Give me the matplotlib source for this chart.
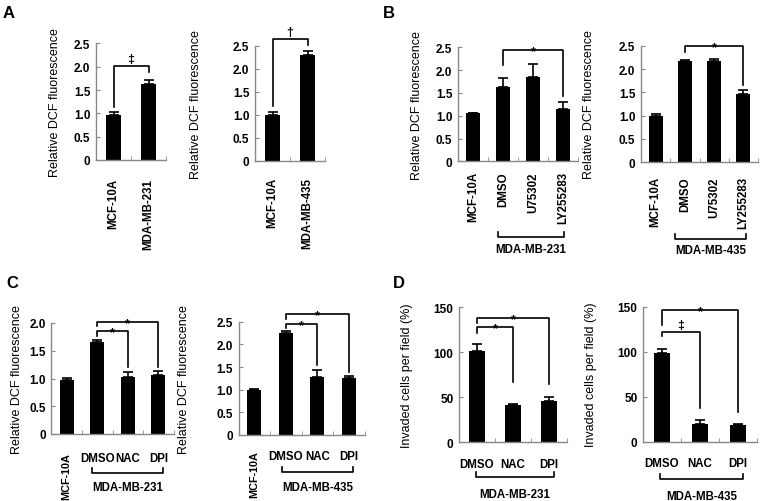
import matplotlib
matplotlib.use('Agg')
import matplotlib.pyplot as plt
from matplotlib.transforms import blended_transform_factory

plt.rcParams['font.family'] = ['Liberation Sans', 'DejaVu Sans']

W, H = 764, 502

# ---- data ----
a1_labels = ['MCF-10A', 'MDA-MB-231']
a1_vals = [0.96, 1.62]
a1_err = [0.06, 0.10]
a1_sig = [(0, 1, 2.01, 1.13, 1.88, '‡')]

a2_labels = ['MCF-10A', 'MDA-MB-435']
a2_vals = [0.99, 2.30]
a2_err = [0.06, 0.08]
a2_sig = [(0, 1, 2.65, 1.20, 2.52, '†')]

b_labels = ['MCF-10A', 'DMSO', 'U75302', 'LY255283']
b1_vals = [1.05, 1.64, 1.84, 1.15]
b1_err = [0.02, 0.18, 0.29, 0.15]
b1_sig = [(1, 3, 2.43, 2.11, 1.44, '*')]

b2_vals = [1.00, 2.17, 2.17, 1.47]
b2_err = [0.04, 0.02, 0.05, 0.07]
b2_sig = [(1, 3, 2.50, 2.36, 1.66, '*')]

c_labels = ['MCF-10A', 'DMSO', 'NAC', 'DPI']
c1_vals = [0.97, 1.65, 1.02, 1.07]
c1_err = [0.04, 0.05, 0.10, 0.06]
c1_sig = [(1, 2, 1.85, 1.77, 1.20, '*'), (1, 3, 2.02, 1.95, 1.20, '*')]

c2_vals = [1.00, 2.26, 1.28, 1.26]
c2_err = [0.01, 0.04, 0.15, 0.04]
c2_sig = [(1, 2, 2.46, 2.35, 1.55, '*'), (1, 3, 2.67, 2.57, 1.39, '*')]

d_labels = ['DMSO', 'NAC', 'DPI']
d1_vals = [101, 41, 46]
d1_err = [8, 2, 4]
d1_sig = [(0, 1, 128, 122, 67, '*'), (0, 2, 138, 133, 65, '*')]

d2_vals = [99, 20, 19]
d2_err = [4, 4, 1]
d2_sig = [(0, 1, 121.5, 117, 38, '‡'), (0, 2, 146, 130, 33, '*')]

dcf_ticks = [0, 0.5, 1.0, 1.5, 2.0, 2.5]
dcf_ticks_c1 = [0, 0.5, 1.0, 1.5, 2.0]
inv_ticks = [0, 50, 100, 150]

DCF = 'Relative DCF fluorescence'
INV = 'Invaded cells per field (%)'

fig = plt.figure(figsize=(W / 100, H / 100), dpi=100)


def fy(ypix):
    return 1 - ypix / H


def panel(box, labels, vals, err, sig, ticks, ylabel, ylab_x, width,
          rot=90, pad=8, group=None, first_rot=False):
    """box = (left, top, right, bottom) in pixels"""
    l, t, r, b = box
    ax = fig.add_axes([l / W, fy(b), (r - l) / W, (b - t) / H])
    n = len(vals)
    x = list(range(n))
    ax.bar(x, vals, width=width, color='black', zorder=2)
    ax.errorbar(x, vals, yerr=[[0] * n, err], fmt='none', ecolor='black',
                elinewidth=1.2, capsize=3.5, capthick=1.2, zorder=3)
    ax.set_xlim(-0.5, n - 0.5)
    ax.set_ylim(0, ticks[-1])
    for s in ['top', 'right']:
        ax.spines[s].set_visible(False)
    for s in ['left', 'bottom']:
        ax.spines[s].set_color('#888888')
        ax.spines[s].set_linewidth(1)
    ax.set_yticks(ticks)
    ax.set_yticklabels(['0' if v == 0 else (('%.1f' % v) if ticks[-1] < 10 else '%d' % v)
                        for v in ticks], fontsize=8.5, fontweight='bold')
    ax.tick_params(axis='y', direction='in', length=3, color='#888888', pad=4)
    ax.set_xticks(x)
    ax.set_xticks([i + 0.5 for i in range(n)], minor=True)
    ax.tick_params(axis='x', which='major', length=0, pad=pad)
    ax.tick_params(axis='x', which='minor', direction='in', length=3, color='#888888')
    ax.set_xticklabels(labels, rotation=rot, fontsize=8.3, fontweight='bold')
    if first_rot:
        ax.get_xticklabels()[0].set_rotation(90)
        ax.get_xticklabels()[0].set_fontsize(7.8)
    ax.set_ylabel(ylabel, fontsize=9)
    ax.yaxis.set_label_coords((ylab_x - l) / (r - l), 0.5)

    for i, j, top, yi, yj, sym in sig:
        ax.plot([i, i, j, j], [yi, top, top, yj], color='black', lw=1.2,
                clip_on=False, zorder=4)
        dy = -3 if sym == '*' else 3
        ax.annotate(sym, ((i + j) / 2, top), xytext=(0, dy), textcoords='offset points',
                    ha='center', va='baseline', fontsize=9, fontweight='bold',
                    annotation_clip=False)

    if group is not None:
        x0, x1, yb, ytxt, name = group
        tr = blended_transform_factory(ax.transData, fig.transFigure)
        ax.plot([x0, x0, x1, x1], [fy(yb - 5), fy(yb), fy(yb), fy(yb - 5)],
                color='black', lw=1.2, transform=tr, clip_on=False)
        ax.text((x0 + x1) / 2, fy(ytxt), name, transform=tr, ha='center', va='center',
                fontsize=8.3, fontweight='bold')
    return ax


panel((96, 44.4, 166, 161), a1_labels, a1_vals, a1_err, a1_sig, dcf_ticks, DCF, 61,
      0.42, pad=13)
panel((255, 46.7, 325, 161.7), a2_labels, a2_vals, a2_err, a2_sig, dcf_ticks, DCF, 202,
      0.42, pad=12)
panel((458, 48.3, 578, 162.3), b_labels, b1_vals, b1_err, b1_sig, dcf_ticks, DCF, 423,
      0.48, pad=7, group=(0.83, 3.03, 238, 250, 'MDA-MB-231'))
panel((641, 46.7, 758, 163.3), b_labels, b2_vals, b2_err, b2_sig, dcf_ticks, DCF, 595,
      0.48, pad=10, group=(0.65, 3.09, 240, 251, 'MDA-MB-435'))
panel((51.5, 324, 173.5, 435), c_labels, c1_vals, c1_err, c1_sig, dcf_ticks_c1, DCF, 23,
      0.46, rot=0, pad=13, first_rot=True, group=(0.83, 3.16, 474, 488, 'MDA-MB-231'))
panel((238.5, 322.7, 364.5, 436), c_labels, c2_vals, c2_err, c2_sig, dcf_ticks, DCF, 190,
      0.46, rot=0, pad=11, first_rot=True, group=(0.88, 3.13, 473, 488, 'MDA-MB-435'))
panel((459, 308.3, 567, 443.3), d_labels, d1_vals, d1_err, d1_sig, inv_ticks, INV, 413,
      0.42, rot=0, pad=11, group=(-0.03, 2.14, 478, 495, 'MDA-MB-231'))
panel((643, 307.7, 757, 442.7), d_labels, d2_vals, d2_err, d2_sig, inv_ticks, INV, 597,
      0.44, rot=0, pad=11, group=(-0.05, 2.13, 480, 497, 'MDA-MB-435'))

for letter, (px, py) in {'A': (9, 14), 'B': (389, 14), 'C': (12, 284), 'D': (399, 284)}.items():
    fig.text(px / W, fy(py), letter, fontsize=12, fontweight='bold', ha='center', va='center')

fig.savefig('out.png', dpi=100)
